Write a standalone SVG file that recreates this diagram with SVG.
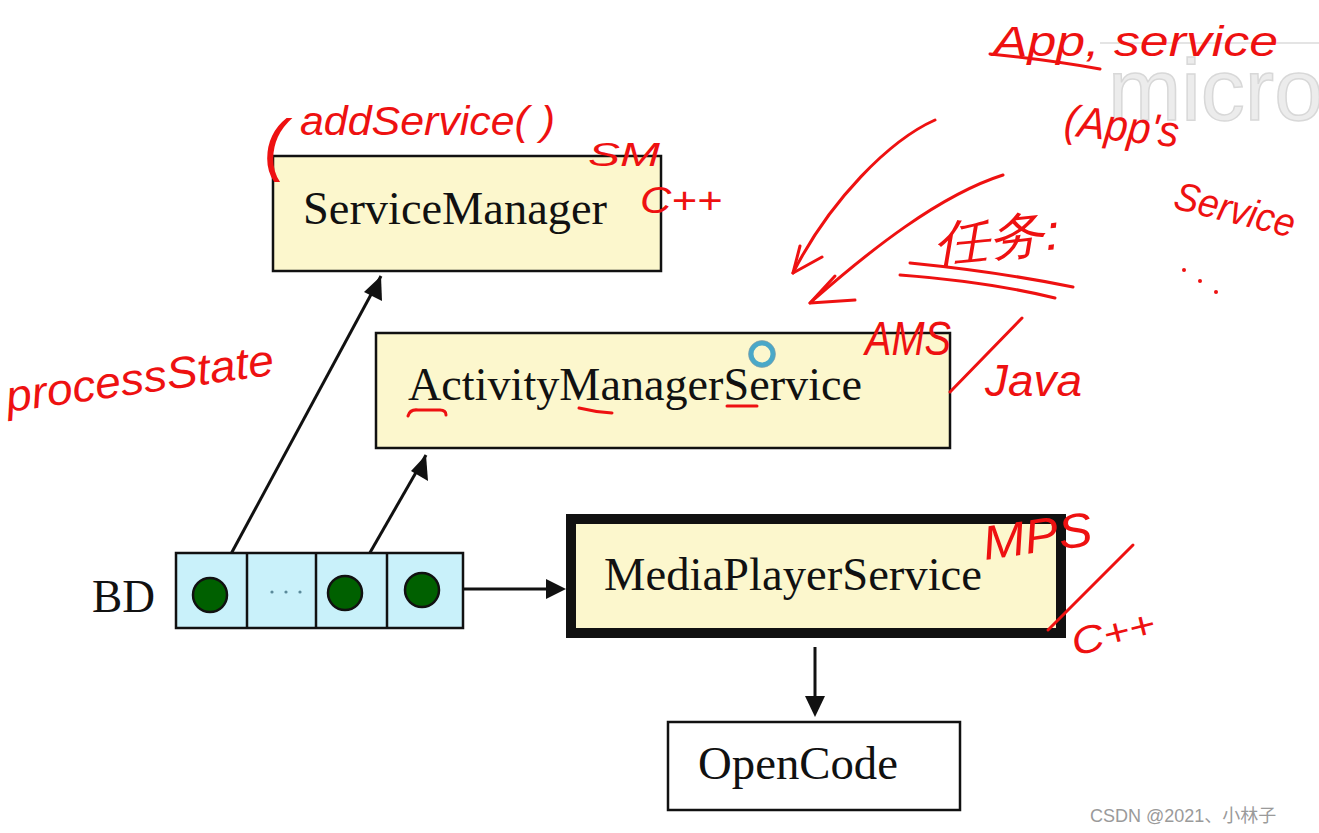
<svg xmlns="http://www.w3.org/2000/svg" width="1319" height="833" viewBox="0 0 1319 833">
<defs>
<style>
.box{fill:#fcf7cd;stroke:#111;stroke-width:2.5}
.lbl{font-family:"Liberation Serif",serif;font-size:46px;fill:#111}
.conn{stroke:#111;stroke-width:3;fill:none}
.head{fill:#111}
.hand{font-family:"Liberation Sans",sans-serif;font-style:italic;fill:#ee1111}
.hw{fill:none;stroke:#ee1111;stroke-width:3;stroke-linecap:round;stroke-linejoin:round}
.cell{fill:#c9f1fa;stroke:#111;stroke-width:2.5}
.dot{fill:#006000;stroke:#111;stroke-width:2.5}
</style>
</defs>
<rect width="1319" height="833" fill="#fff"/>

<g id="watermark">
<line x1="1100" y1="43" x2="1319" y2="43" stroke="#e4e4e4" stroke-width="2"/>
<text x="1108" y="120" font-family="Liberation Sans,sans-serif" font-size="88" fill="#ececec" stroke="#d8d8d8" stroke-width="1.5">micro</text>
<text x="1090" y="822" font-family="Liberation Sans,'Noto Sans CJK SC',sans-serif" font-size="18" fill="#9a9a9a">CSDN @2021、小林子</text>
</g>

<g id="connectors">
<path d="M218,578 L381,276" class="conn"/>
<path d="M381,276 L364,292 L382,301 z" class="head"/>
<path d="M356,577 L426,455" class="conn"/>
<path d="M426,455 L411,471 L428,481 z" class="head"/>
<path d="M438,589 L548,589" class="conn"/>
<path d="M566,589 L546,579 L546,599 z" class="head"/>
<path d="M815,647 L815,698" class="conn"/>
<path d="M815,717 L805,696 L825,696 z" class="head"/>
</g>

<g id="ServiceManager">
<rect x="273" y="156" width="388" height="115" class="box"/>
<text x="303" y="224" class="lbl" textLength="304" lengthAdjust="spacingAndGlyphs">ServiceManager</text>
</g>

<g id="ActivityManagerService">
<rect x="376" y="333" width="574" height="115" class="box"/>
<text x="408" y="400" class="lbl" textLength="454" lengthAdjust="spacingAndGlyphs">ActivityManagerService</text>
</g>

<g id="MediaPlayerService">
<rect x="571" y="519" width="490" height="114" class="box" style="stroke-width:10"/>
<text x="604" y="590" class="lbl" textLength="378" lengthAdjust="spacingAndGlyphs">MediaPlayerService</text>
</g>

<g id="OpenCode">
<rect x="668" y="722" width="292" height="88" fill="#fff" stroke="#111" stroke-width="2.5"/>
<text x="698" y="779" class="lbl" textLength="200" lengthAdjust="spacingAndGlyphs">OpenCode</text>
</g>

<g id="BD">
<text x="92" y="612" class="lbl" textLength="63" lengthAdjust="spacingAndGlyphs">BD</text>
<rect x="176" y="553" width="287" height="75" class="cell"/>
<line x1="247" y1="553" x2="247" y2="628" stroke="#111" stroke-width="2.5"/>
<line x1="316" y1="553" x2="316" y2="628" stroke="#111" stroke-width="2.5"/>
<line x1="387" y1="553" x2="387" y2="628" stroke="#111" stroke-width="2.5"/>
<circle cx="210" cy="595" r="17" class="dot"/>
<circle cx="345" cy="593" r="17" class="dot"/>
<circle cx="422" cy="590" r="17" class="dot"/>
<circle cx="272" cy="592" r="1.6" fill="#5a8a9a"/>
<circle cx="286" cy="592" r="1.6" fill="#5a8a9a"/>
<circle cx="300" cy="592" r="1.6" fill="#5a8a9a"/>
</g>

<g id="cursor">
<circle cx="762" cy="354" r="11" fill="none" stroke="#4aa8c8" stroke-width="5"/>
<circle cx="762" cy="354" r="13.5" fill="none" stroke="#8a9aa0" stroke-width="1" opacity="0.6"/>
</g>

<g id="annotations">
<text x="264" y="168" class="hand" font-size="68" font-style="normal">(</text>
<text x="300" y="135" class="hand" font-size="40" textLength="255" lengthAdjust="spacingAndGlyphs">addService( )</text>
<text x="588" y="166" class="hand" font-size="34" textLength="72" lengthAdjust="spacingAndGlyphs">SM</text>
<text x="640" y="213" class="hand" font-size="36" textLength="82" lengthAdjust="spacingAndGlyphs">C++</text>
<text x="8" y="412" class="hand" font-size="44" textLength="270" lengthAdjust="spacingAndGlyphs" transform="rotate(-8 8 412)">processState</text>
<path class="hw" d="M408,416 Q410,409 418,410 L440,410 Q446,410 446,415"/>
<path class="hw" d="M579,408 Q595,412 612,413"/>
<path class="hw" d="M727,406 L757,406"/>

<path class="hw" d="M935,120 C890,140 830,200 793,273"/>
<path class="hw" d="M800,246 L793,273 L822,257"/>
<path class="hw" d="M1003,175 C940,195 870,250 810,303"/>
<path class="hw" d="M835,276 L810,303 L855,300"/>

<text x="935" y="262" class="hand" font-size="50" font-style="normal" font-family="'Noto Sans CJK SC',sans-serif" textLength="127" lengthAdjust="spacingAndGlyphs" transform="rotate(-6 935 262)">任务:</text>
<path class="hw" d="M910,263 Q1000,272 1073,287"/>
<path class="hw" d="M900,275 Q990,282 1055,298"/>

<text x="865" y="355" class="hand" font-size="48" textLength="86" lengthAdjust="spacingAndGlyphs">AMS</text>
<path class="hw" d="M950,392 L1022,318"/>
<text x="985" y="396" class="hand" font-size="44" textLength="97" lengthAdjust="spacingAndGlyphs">Java</text>

<text x="985" y="560" class="hand" font-size="48" textLength="110" lengthAdjust="spacingAndGlyphs" transform="rotate(-8 985 560)">MPS</text>
<path class="hw" d="M1048,630 L1133,545"/>
<text x="1075" y="656" class="hand" font-size="38" textLength="85" lengthAdjust="spacingAndGlyphs" transform="rotate(-14 1075 656)">C++</text>

<text x="993" y="56" class="hand" font-size="42" textLength="285" lengthAdjust="spacingAndGlyphs">App, service</text>
<path class="hw" d="M990,54 Q1050,60 1100,69"/>
<text x="1063" y="135" class="hand" font-size="44" textLength="115" lengthAdjust="spacingAndGlyphs" transform="rotate(6 1063 135)">(App's</text>
<text x="1172" y="208" class="hand" font-size="40" textLength="123" lengthAdjust="spacingAndGlyphs" transform="rotate(14 1172 208)">Service</text>
<circle cx="1184" cy="270" r="2" fill="#ee1111"/>
<circle cx="1200" cy="281" r="2" fill="#ee1111"/>
<circle cx="1216" cy="292" r="2" fill="#ee1111"/>
</g>
</svg>
